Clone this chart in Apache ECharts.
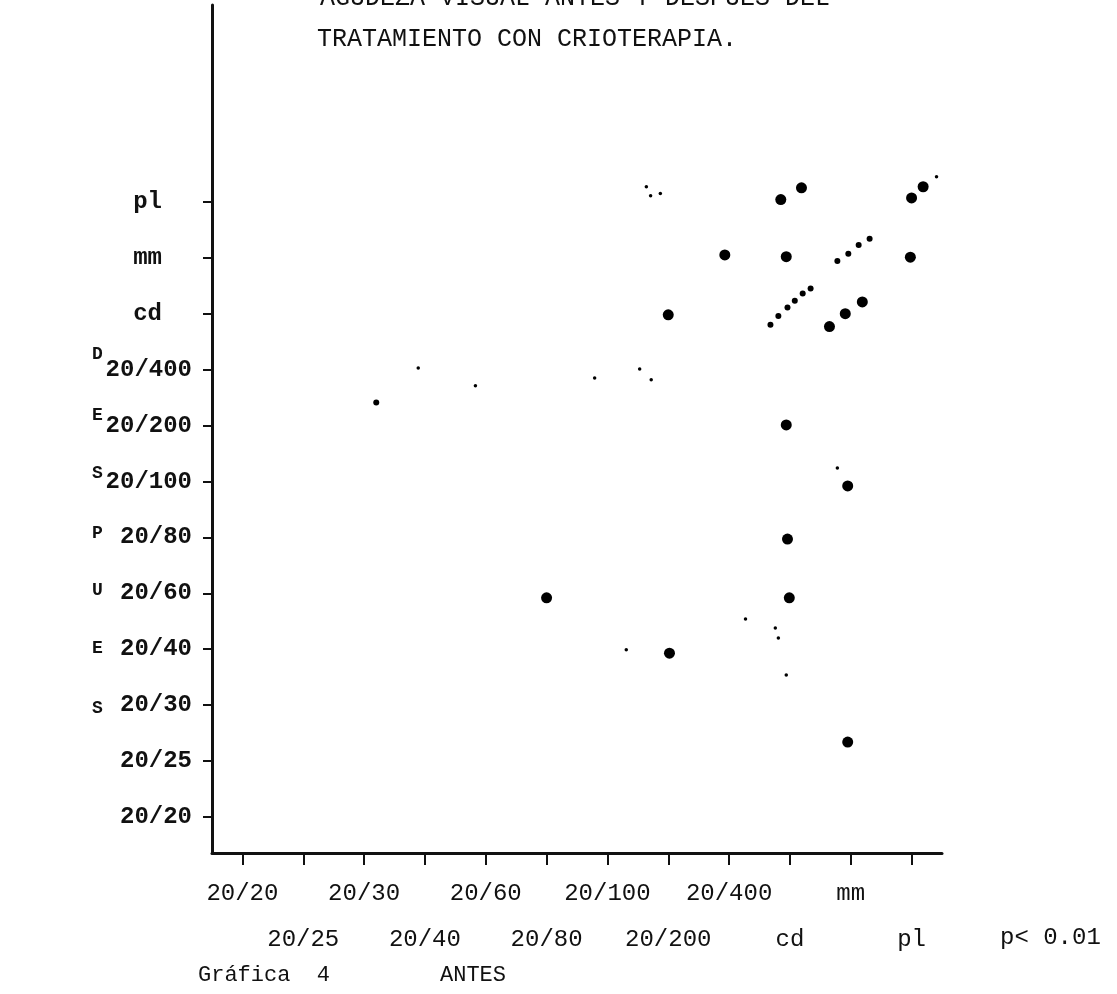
<!DOCTYPE html>
<html>
<head>
<meta charset="utf-8">
<style>
  html, body { margin: 0; padding: 0; background: #fff; }
  #chart { width: 1117px; height: 994px; }
</style>
<script src="https://cdn.jsdelivr.net/npm/echarts@6/dist/echarts.min.js"></script>
</head>
<body>
<div id="chart"></div>
<script>
// Visual acuity scale (shared by both axes), from best to worst
const acuityLevels = ['20/20', '20/25', '20/30', '20/40', '20/60', '20/80', '20/100', '20/200', '20/400', 'cd', 'mm', 'pl'];

// Eyes: acuity before (antes) and after (despues) cryotherapy, in scale steps.
// Typed marks sit slightly off the grid, so positions keep fractions.
const antesMain   = [8.85, 9.19, 11.00, 11.19, 7.93, 8.94, 10.98, 7.00, 9.65, 9.91, 10.19, 8.94, 9.95, 8.96, 5.00, 8.99, 7.02, 9.95];
const despuesMain = [11.04, 11.25, 11.07, 11.27, 10.05, 10.02, 10.01, 8.98, 8.77, 9.00, 9.21, 7.01, 5.92, 4.97, 3.92, 3.92, 2.93, 1.34];

const antesMid   = [9.78, 9.96, 10.13, 10.31, 8.68, 8.81, 8.96, 9.08, 9.21, 9.34, 2.20];
const despuesMid = [9.94, 10.07, 10.23, 10.34, 8.80, 8.96, 9.11, 9.23, 9.36, 9.45, 7.41];

const antesSmall   = [2.89, 3.83, 6.53, 6.72, 5.79, 8.27, 6.31, 9.78, 8.76, 8.81, 8.94, 6.64, 6.71, 6.87, 11.41];
const despuesSmall = [8.03, 7.71, 8.01, 7.82, 7.85, 3.54, 2.99, 6.24, 3.38, 3.20, 2.54, 11.27, 11.11, 11.15, 11.45];

const titleLines = ['AGUDEZA VISUAL ANTES Y DESPUES DEL', 'TRATAMIENTO CON CRIOTERAPIA.'];
const sideLetters = ['D', 'E', 'S', 'P', 'U', 'E', 'S'];

const pairs = (xs, ys) => xs.map((x, i) => [x, ys[i]]);
const tickValues = acuityLevels.map((_, i) => i);

const MONO = '"Liberation Mono", "DejaVu Sans Mono", monospace';
const INK = '#111';

const chart = echarts.init(document.getElementById('chart'), null, { renderer: 'canvas' });

const sideText = sideLetters.map((ch, i) => ({
  type: 'text',
  left: 92,
  top: [345, 406, 464, 524, 581, 639, 699][i],
  style: { text: ch, font: 'bold 18px ' + MONO, fill: INK }
}));

const dotStyle = { color: '#000', opacity: 1 };

chart.setOption({
  animation: false,
  backgroundColor: '#fff',
  grid: { left: 212, right: 175, top: 5, bottom: 141, containLabel: false },
  xAxis: [
    {
      // printed scale: one tick and one label per acuity level
      type: 'category',
      data: acuityLevels,
      boundaryGap: true,
      axisLine: { show: true, onZero: false, lineStyle: { color: INK, width: 3 } },
      axisTick: { show: true, alignWithLabel: true, interval: 0, length: 12, lineStyle: { color: INK, width: 2 } },
      axisLabel: {
        show: true,
        interval: 0,
        hideOverlap: false,
        margin: 18,
        lineHeight: 46,
        color: INK,
        fontFamily: MONO,
        fontSize: 24,
        formatter: (v, i) => (i % 2 === 1 ? '\n' : '') + v
      },
      splitLine: { show: false }
    },
    {
      // numeric twin used to place the typed marks
      type: 'value',
      min: -0.5,
      max: 11.5,
      show: false,
      splitLine: { show: false }
    }
  ],
  yAxis: {
    type: 'value',
    min: -0.644,
    max: 14.52,
    axisLine: { show: true, onZero: false, lineStyle: { color: INK, width: 3 } },
    axisTick: { show: true, customValues: tickValues, length: 9, lineStyle: { color: INK, width: 2 } },
    axisLabel: {
      show: true,
      customValues: tickValues,
      margin: 20,
      color: INK,
      fontFamily: MONO,
      fontSize: 24,
      fontWeight: 'bold',
      formatter: v => {
        const t = acuityLevels[Math.round(v)];
        return t.length <= 2 ? '{s|' + t + '}' : t;
      },
      rich: { s: { fontFamily: MONO, fontSize: 24, fontWeight: 'bold', color: INK, padding: [0, 30, 0, 0] } }
    },
    splitLine: { show: false }
  },
  series: [
    { type: 'scatter', xAxisIndex: 1, symbol: 'circle', symbolSize: 11, itemStyle: dotStyle, data: pairs(antesMain, despuesMain) },
    { type: 'scatter', xAxisIndex: 1, symbol: 'circle', symbolSize: 6, itemStyle: dotStyle, data: pairs(antesMid, despuesMid) },
    { type: 'scatter', xAxisIndex: 1, symbol: 'circle', symbolSize: 3.5, itemStyle: dotStyle, data: pairs(antesSmall, despuesSmall) }
  ],
  graphic: [
    { type: 'text', left: 320, top: -14, style: { text: titleLines[0], font: '25px ' + MONO, fill: INK } },
    { type: 'text', left: 317, top: 27, style: { text: titleLines[1], font: '25px ' + MONO, fill: INK } },
    { type: 'text', left: 1000, top: 926, style: { text: 'p< 0.01', font: '24px ' + MONO, fill: INK } },
    { type: 'text', left: 198, top: 964, style: { text: 'Gráfica  4', font: '22px ' + MONO, fill: INK } },
    { type: 'text', left: 440, top: 964, style: { text: 'ANTES', font: '22px ' + MONO, fill: INK } }
  ].concat(sideText)
});
</script>
</body>
</html>
